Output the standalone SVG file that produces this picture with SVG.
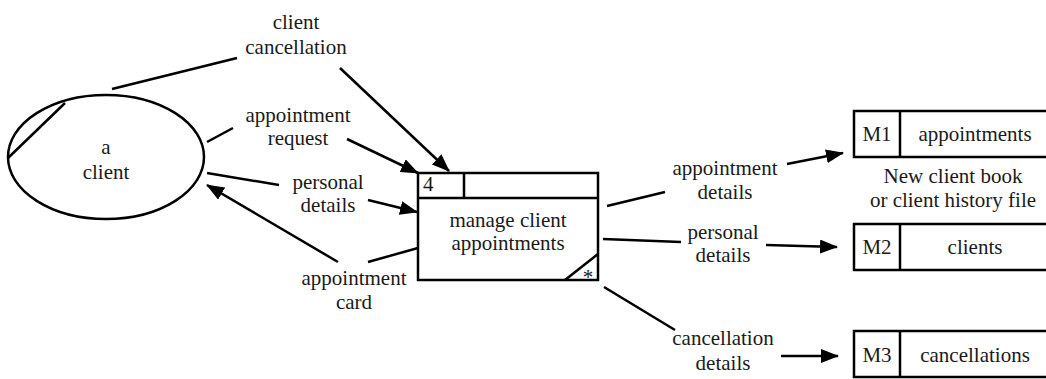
<svg xmlns="http://www.w3.org/2000/svg" width="1046" height="379" viewBox="0 0 1046 379">
<style>
text{font-family:"Liberation Serif","Times New Roman",serif;font-size:21px;fill:#1a1a1a;text-anchor:middle}
.s{fill:none;stroke:#000;stroke-width:2.5}
.w{fill:#fff;stroke:#000;stroke-width:2.5}
.c{fill:none;stroke:#000;stroke-width:2.5}
.a{fill:none;stroke:#000;stroke-width:2.5;marker-end:url(#ah)}
</style>
<defs>
<marker id="ah" markerUnits="userSpaceOnUse" markerWidth="18" markerHeight="14" refX="17" refY="7" orient="auto">
<path d="M0,0 L18,7 L0,14 z" fill="#000"/>
</marker>
</defs>
<rect width="1046" height="379" fill="#fff"/>
<g id="client">
<ellipse class="w" cx="106" cy="157" rx="98" ry="62"/>
<line class="s" x1="8" y1="158" x2="65" y2="103"/>
<text x="106" y="154">a</text>
<text x="106" y="179">client</text>
</g>
<g id="process4">
<rect class="w" x="418" y="173" width="180" height="107"/>
<line class="s" x1="418" y1="198" x2="598" y2="198"/>
<line class="s" x1="464" y1="173" x2="464" y2="198"/>
<line class="s" x1="565" y1="280" x2="598" y2="254"/>
<text x="423" y="191" style="text-anchor:start">4</text>
<text x="508" y="227">manage client</text>
<text x="508" y="250">appointments</text>
<text x="588" y="284" style="font-size:21px">*</text>
</g>
<g id="storeM1">
<path class="s" d="M1046,111 H854 V157 H1046"/>
<line class="s" x1="900" y1="111" x2="900" y2="157"/>
<text x="877" y="141">M1</text>
<text x="975" y="141">appointments</text>
<text x="953" y="183">New client book</text>
<text x="953" y="207">or client history file</text>
</g>
<g id="storeM2">
<path class="s" d="M1046,224 H854 V270 H1046"/>
<line class="s" x1="900" y1="224" x2="900" y2="270"/>
<text x="877" y="254">M2</text>
<text x="975" y="254">clients</text>
</g>
<g id="storeM3">
<path class="s" d="M1046,331 H854 V377 H1046"/>
<line class="s" x1="900" y1="331" x2="900" y2="377"/>
<text x="877" y="362">M3</text>
<text x="975" y="362">cancellations</text>
</g>
<g id="connectors">
<line class="c" x1="112" y1="89" x2="237" y2="58"/>
<line class="a" x1="340" y1="68" x2="449" y2="171"/>
<line class="c" x1="207" y1="142" x2="233" y2="128"/>
<line class="a" x1="347" y1="139" x2="418" y2="173"/>
<line class="c" x1="207" y1="173" x2="279" y2="185"/>
<line class="a" x1="368" y1="200" x2="417" y2="212"/>
<line class="c" x1="418" y1="248" x2="368" y2="262"/>
<line class="a" x1="338" y1="262" x2="207" y2="185"/>
<line class="c" x1="607" y1="206" x2="665" y2="192"/>
<line class="a" x1="787" y1="164" x2="843" y2="153"/>
<line class="c" x1="603" y1="239" x2="681" y2="242"/>
<line class="a" x1="766" y1="245" x2="837" y2="247"/>
<line class="c" x1="604" y1="287" x2="675" y2="330"/>
<line class="a" x1="781" y1="356" x2="838" y2="356"/>
</g>
<g id="labels">
<text x="296" y="29">client</text>
<text x="296" y="54">cancellation</text>
<text x="298" y="122">appointment</text>
<text x="298" y="145">request</text>
<text x="328" y="189">personal</text>
<text x="328" y="212">details</text>
<text x="354" y="285">appointment</text>
<text x="354" y="309">card</text>
<text x="725" y="175">appointment</text>
<text x="725" y="199">details</text>
<text x="723" y="239">personal</text>
<text x="723" y="262">details</text>
<text x="723" y="345">cancellation</text>
<text x="723" y="370">details</text>
</g>
</svg>
